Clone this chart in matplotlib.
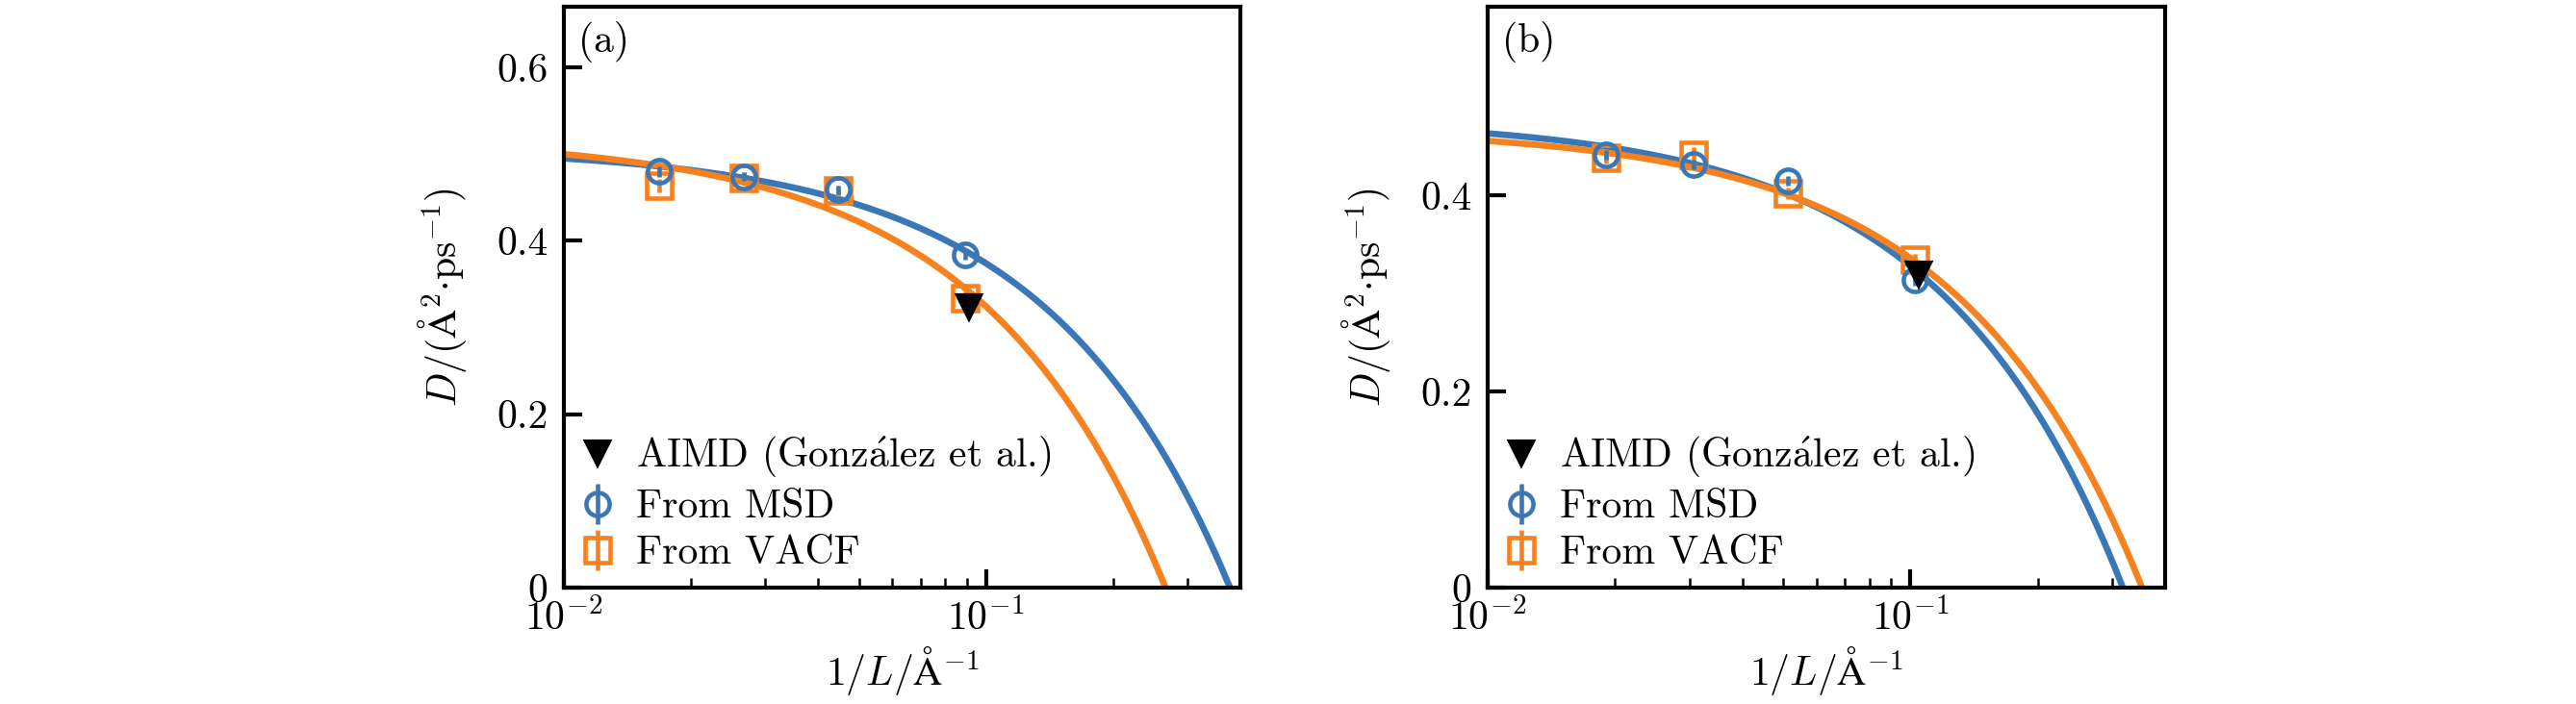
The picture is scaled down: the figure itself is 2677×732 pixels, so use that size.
import matplotlib
matplotlib.use('Agg')
import matplotlib.pyplot as plt
import numpy as np
from matplotlib.ticker import FixedLocator, FuncFormatter, LogLocator, NullFormatter

plt.rcParams['font.family'] = ['cmr10', 'DejaVu Serif']
plt.rcParams['mathtext.fontset'] = 'cm'
plt.rcParams['axes.formatter.use_mathtext'] = True
plt.rcParams['font.size'] = 10

blue = '#3a77b6'
orange = '#f5821f'

# panel (a)
inv_L_a = [0.0168, 0.0267, 0.0447, 0.089]
msd_a = [0.480, 0.474, 0.459, 0.384]
vacf_a = [0.464, 0.473, 0.458, 0.334]
err_msd_a = [0.006, 0.005, 0.005, 0.006]
err_vacf_a = [0.008, 0.006, 0.006, 0.008]
aimd_x_a = [0.0912]
aimd_y_a = [0.324]
# linear fits D = D_inf - k / L
fit_msd_a = (0.5085, 1.345)
fit_vacf_a = (0.5195, 1.953)

# panel (b)
inv_L_b = [0.0191, 0.0307, 0.0514, 0.1025]
msd_b = [0.441, 0.431, 0.415, 0.314]
vacf_b = [0.438, 0.441, 0.402, 0.334]
err_msd_b = [0.005, 0.005, 0.005, 0.006]
err_vacf_b = [0.006, 0.008, 0.006, 0.006]
aimd_x_b = [0.1048]
aimd_y_b = [0.320]
fit_msd_b = (0.478, 1.504)
fit_vacf_b = (0.4686, 1.328)

panels = [
    ('(a)', inv_L_a, msd_a, vacf_a, err_msd_a, err_vacf_a, aimd_x_a, aimd_y_a,
     fit_msd_a, fit_vacf_a, 0.67, [0, 0.2, 0.4, 0.6], [0.2189, 0.1653, 0.2626, 0.8251]),
    ('(b)', inv_L_b, msd_b, vacf_b, err_msd_b, err_vacf_b, aimd_x_b, aimd_y_b,
     fit_msd_b, fit_vacf_b, 0.592, [0, 0.2, 0.4], [0.5775, 0.1653, 0.2630, 0.8251]),
]

fig = plt.figure(figsize=(2677 / 300, 732 / 300), dpi=300)

xs = np.logspace(-2, np.log10(0.4), 400)

for (tag, x, msd, vacf, emsd, evacf, ax_x, ax_y, fm, fv, ymax, yt, pos) in panels:
    ax = fig.add_axes(pos)
    ax.plot(xs, fm[0] - fm[1] * xs, color=blue, lw=1.6, zorder=2)
    ax.plot(xs, fv[0] - fv[1] * xs, color=orange, lw=1.6, zorder=2)
    ax.plot(ax_x, ax_y, 'v', color='black', ms=5.8, zorder=5,
            label='AIMD (Gonz$\\acute{\\mathrm{a}}$lez et al.)')
    ax.errorbar(x, msd, yerr=emsd, fmt='o', mfc='none', mec=blue, ecolor=blue,
                mew=1.1, ms=5.8, elinewidth=1.1, zorder=4, label='From MSD')
    ax.errorbar(x, vacf, yerr=evacf, fmt='s', mfc='none', mec=orange, ecolor=orange,
                mew=1.1, ms=6.2, elinewidth=1.1, zorder=3, label='From VACF')

    ax.set_xscale('log')
    ax.set_xlim(0.01, 0.4)
    ax.set_ylim(0, ymax)
    ax.yaxis.set_major_locator(FixedLocator(yt))
    ax.yaxis.set_major_formatter(FuncFormatter(lambda v, p: '%g' % v))
    ax.xaxis.set_minor_locator(LogLocator(base=10, subs=np.arange(2, 10)))
    ax.xaxis.set_minor_formatter(NullFormatter())
    ax.tick_params(which='major', direction='in', length=4.5, width=1.0, pad=4)
    ax.tick_params(axis='x', which='major', pad=2.5)
    ax.tick_params(which='minor', direction='in', length=2.5, width=0.6)
    for s in ax.spines.values():
        s.set_linewidth(1.0)

    ax.set_xlabel('$1/L/\\mathrm{\\AA}^{-1}$', labelpad=2)
    ax.set_ylabel('$D/(\\mathrm{\\AA}^2{\\cdot}\\mathrm{ps}^{-1})$', labelpad=7)
    ax.text(0.022, 0.975, tag, transform=ax.transAxes, va='top', ha='left')

    h, l = ax.get_legend_handles_labels()
    ax.legend(h, l, loc='lower left', frameon=False, handlelength=0.9,
              handletextpad=0.5, labelspacing=0.25, borderaxespad=0.0)

fig.savefig('out.png', dpi=300)
